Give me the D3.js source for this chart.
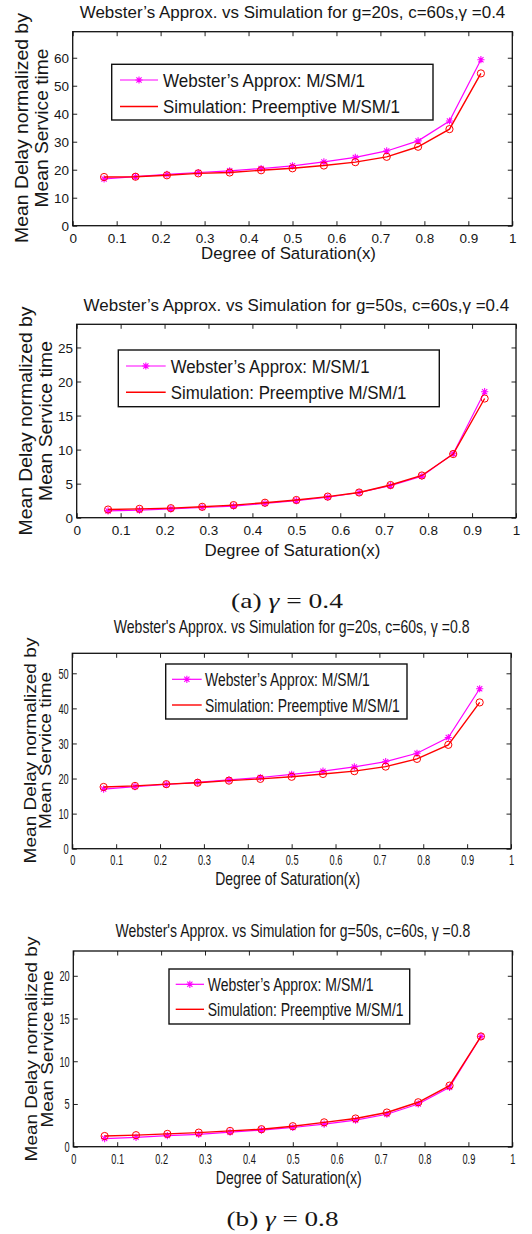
<!DOCTYPE html>
<html>
<head>
<meta charset="utf-8">
<script src="https://cdn.jsdelivr.net/npm/d3@7"></script>
<style>
body { margin: 0; background: #fff; }
svg { display: block; }
text { font-family: "Liberation Sans", Arial, sans-serif; fill: #161616; }
</style>
</head>
<body>
<svg id="fig" width="532" height="1234"></svg>
<script>
// degree of saturation for every point
const saturation = [0.0714, 0.1429, 0.2143, 0.2857, 0.3571, 0.4286, 0.5, 0.5714, 0.6429, 0.7143, 0.7857, 0.8571, 0.9286];
const xTicks = [0, 0.1, 0.2, 0.3, 0.4, 0.5, 0.6, 0.7, 0.8, 0.9, 1];

// gamma = 0.4
const websterG20a = [16.7, 17.5, 18.3, 19.0, 19.6, 20.4, 21.4, 22.8, 24.4, 26.7, 30.3, 37.4, 59.3];
const simG20a     = [17.4, 17.5, 18.0, 18.7, 19.0, 19.8, 20.5, 21.5, 22.7, 24.6, 28.2, 34.5, 54.4];
const websterG50a = [1.0, 1.1, 1.3, 1.5, 1.7, 2.1, 2.5, 3.0, 3.7, 4.7, 6.1, 9.4, 18.5];
const simG50a     = [1.2, 1.3, 1.4, 1.6, 1.85, 2.2, 2.6, 3.1, 3.7, 4.8, 6.2, 9.35, 17.5];
// gamma = 0.8
const websterG20b = [17.0, 17.7, 18.3, 18.9, 19.6, 20.3, 21.2, 22.1, 23.3, 24.8, 27.2, 31.7, 45.6];
const simG20b     = [17.6, 17.9, 18.4, 18.8, 19.4, 19.9, 20.5, 21.3, 22.1, 23.4, 25.6, 29.6, 41.7];
const websterG50b = [0.95, 1.1, 1.3, 1.45, 1.7, 1.95, 2.25, 2.65, 3.1, 3.8, 5.0, 6.95, 12.9];
const simG50b     = [1.25, 1.35, 1.5, 1.65, 1.85, 2.05, 2.4, 2.85, 3.3, 4.0, 5.2, 7.15, 12.9];

const yTicksA = [0, 10, 20, 30, 40, 50, 60];
const yTicksB = [0, 5, 10, 15, 20, 25];
const yTicksC = [0, 10, 20, 30, 40, 50];
const yTicksD = [0, 5, 10, 15, 20];

const titles = [
    "Webster\u2019s Approx. vs Simulation for g=20s, c=60s,\u03b3 =0.4",
    "Webster\u2019s Approx. vs Simulation for g=50s, c=60s,\u03b3 =0.4",
    "Webster's Approx. vs Simulation for g=20s, c=60s, \u03b3 =0.8",
    "Webster's Approx. vs Simulation for g=50s, c=60s, \u03b3 =0.8"
];
const legendLabels = ["Webster\u2019s Approx: M/SM/1", "Simulation: Preemptive M/SM/1"];
const xLabel = "Degree of Saturation(x)";
const yLabel = ["Mean Delay normalized by", "Mean Service time"];

const svg = d3.select("#fig");

const panels = [
    { title: titles[0], web: websterG20a, sim: simG20a, yTicks: yTicksA, yMax: 69.3,
      box: [72.7, 512.3, 31.7, 225.7], titleY: 18, titleW: 426, titleFs: 17,
      tickY: 17, tickFs: 13.5, tickSx: 1, xlabY: 258.6, xlabW: 175, labFs: 17, ylabFs: 17.5,
      ylabX: [27.7, 47.7], ylabW: [230, 159], ylabC: 128,
      leg: [111.7, 433, 64.3, 120], legLine: [120, 158], legText: 163, legY: [80, 106.5],
      legW: [202, 237], legFs: 19 },
    { title: titles[1], web: websterG50a, sim: simG50a, yTicks: yTicksB, yMax: 28.4,
      box: [76.7, 516, 324.3, 517.7], titleY: 310.7, titleW: 426, titleFs: 17,
      tickY: 17.3, tickFs: 13.5, tickSx: 1, xlabY: 556.3, xlabW: 176, labFs: 17, ylabFs: 17.5,
      ylabX: [31.7, 51.7], ylabW: [229, 160], ylabC: 421,
      leg: [118.3, 439.3, 350, 406.7], legLine: [126, 165.7], legText: 170.7, legY: [366, 392.3],
      legW: [199, 236], legFs: 19 },
    { title: titles[2], web: websterG20b, sim: simG20b, yTicks: yTicksC, yMax: 55.7,
      box: [72.3, 511, 653.3, 848.7], titleY: 632.7, titleW: 356, titleFs: 17.5,
      tickY: 16.3, tickFs: 14, tickSx: 0.66, xlabY: 885.3, xlabW: 145, labFs: 17.5, ylabFs: 17,
      ylabX: [35.7, 50.5], ylabW: [226, 157], ylabC: 750.5,
      leg: [165.7, 407, 664, 719], legLine: [172, 201.7], legText: 205, legY: [679.3, 705],
      legW: [165, 195], legFs: 18.5 },
    { title: titles[3], web: websterG50b, sim: simG50b, yTicks: yTicksD, yMax: 22.9,
      box: [73.3, 512.3, 951, 1146.7], titleY: 937.3, titleW: 355, titleFs: 17.5,
      tickY: 17.3, tickFs: 14, tickSx: 0.66, xlabY: 1183.6, xlabW: 146, labFs: 17.5, ylabFs: 17,
      ylabX: [36.7, 52.5], ylabW: [225, 157], ylabC: 1049,
      leg: [169, 409.7, 969, 1024], legLine: [175.7, 204], legText: 207.7, legY: [984.3, 1009.3],
      legW: [166, 196], legFs: 18.5 }
];

const starPath = "M-3.6,0H3.6M0,-3.6V3.6M-2.6,-2.6L2.6,2.6M-2.6,2.6L2.6,-2.6";

// squeeze a text horizontally (in its own frame) to the measured width
function fit(sel, w, base) {
    const n = sel.node().getComputedTextLength();
    sel.attr("transform", `${base} scale(${w / n},1)`);
}

function drawPanel(p) {
    const [l, r, t, b] = p.box;
    const x = d3.scaleLinear().domain([0, 1]).range([l, r]);
    const y = d3.scaleLinear().domain([0, p.yMax]).range([b, t]);
    const g = svg.append("g");

    // ticks (inward, on all four sides, matlab style)
    const xb = g.append("g").attr("transform", `translate(0,${b})`)
        .call(d3.axisBottom(x).tickValues(xTicks).tickFormat(d3.format("")).tickSizeInner(-4.5).tickSizeOuter(0));
    xb.selectAll("text").attr("y", p.tickY).attr("dy", null)
        .attr("transform", `scale(${p.tickSx},1)`).style("font-size", p.tickFs + "px");
    const xt = g.append("g").attr("transform", `translate(0,${t})`)
        .call(d3.axisTop(x).tickValues(xTicks).tickFormat("").tickSizeInner(-4.5).tickSizeOuter(0));
    const yl = g.append("g").attr("transform", `translate(${l},0)`)
        .call(d3.axisLeft(y).tickValues(p.yTicks).tickSizeInner(-4.5).tickSizeOuter(0));
    yl.selectAll("text").attr("x", 0).attr("dy", "0.34em")
        .attr("transform", `translate(-3.6,0) scale(${p.tickSx},1)`).style("font-size", p.tickFs + "px");
    const yr = g.append("g").attr("transform", `translate(${r},0)`)
        .call(d3.axisRight(y).tickValues(p.yTicks).tickFormat("").tickSizeInner(-4.5).tickSizeOuter(0));
    [xb, xt, yl, yr].forEach(a => {
        a.select(".domain").remove();
        a.selectAll("line").attr("stroke", "#222").attr("stroke-width", 1);
        a.attr("font-family", null).attr("font-size", null);
    });

    g.append("rect")
        .attr("x", l).attr("y", t).attr("width", r - l).attr("height", b - t)
        .attr("fill", "none").attr("stroke", "#111").attr("stroke-width", 1.3);

    const line = d3.line().x((d, i) => x(saturation[i])).y(d => y(d));

    g.append("path").datum(p.web).attr("d", line)
        .attr("fill", "none").attr("stroke", "#ff00ff").attr("stroke-width", 1.2);
    g.selectAll(".star").data(p.web).join("path")
        .attr("class", "star")
        .attr("transform", (d, i) => `translate(${x(saturation[i])},${y(d)})`)
        .attr("d", starPath).attr("stroke", "#ff00ff").attr("stroke-width", 1.1).attr("fill", "none");

    g.append("path").datum(p.sim).attr("d", line)
        .attr("fill", "none").attr("stroke", "#ff0000").attr("stroke-width", 1.4);
    g.selectAll(".circ").data(p.sim).join("circle")
        .attr("class", "circ")
        .attr("cx", (d, i) => x(saturation[i])).attr("cy", d => y(d)).attr("r", 3.6)
        .attr("fill", "none").attr("stroke", "#ff0000").attr("stroke-width", 1);

    // title and axis labels
    const tt = g.append("text").attr("text-anchor", "middle").style("font-size", p.titleFs + "px").text(p.title);
    fit(tt, p.titleW, `translate(${(l + r) / 2},${p.titleY})`);
    const xl = g.append("text").attr("text-anchor", "middle").style("font-size", p.labFs + "px").text(xLabel);
    fit(xl, p.xlabW, `translate(${(l + r) / 2 - 4},${p.xlabY})`);
    yLabel.forEach((s, i) => {
        const yt = g.append("text").attr("text-anchor", "middle").style("font-size", p.ylabFs + "px").text(s);
        fit(yt, p.ylabW[i], `translate(${p.ylabX[i]},${p.ylabC}) rotate(-90)`);
    });

    // legend
    const [ll, lr, lt, lb] = p.leg;
    g.append("rect").attr("x", ll).attr("y", lt).attr("width", lr - ll).attr("height", lb - lt)
        .attr("fill", "#fff").attr("stroke", "#111").attr("stroke-width", 1.4);
    const colors = ["#ff00ff", "#ff0000"];
    legendLabels.forEach((s, i) => {
        g.append("line").attr("x1", p.legLine[0]).attr("x2", p.legLine[1])
            .attr("y1", p.legY[i]).attr("y2", p.legY[i])
            .attr("stroke", colors[i]).attr("stroke-width", i ? 1.4 : 1.2);
        if (i === 0) {
            g.append("path").attr("d", starPath)
                .attr("transform", `translate(${(p.legLine[0] + p.legLine[1]) / 2},${p.legY[i]})`)
                .attr("stroke", colors[i]).attr("stroke-width", 1.1).attr("fill", "none");
        }
        const lt2 = g.append("text").attr("dy", "0.36em").style("font-size", p.legFs + "px").text(s);
        fit(lt2, p.legW[i], `translate(${p.legText},${p.legY[i]})`);
    });
}

panels.forEach(drawPanel);

// sub-figure captions
const captions = [
    { lab: "(a) ", val: " = 0.4", x: 287, y: 608 },
    { lab: "(b) ", val: " = 0.8", x: 282.5, y: 1226 }
];
captions.forEach(c => {
    const t = svg.append("text").attr("text-anchor", "middle")
        .style("font-family", "'Liberation Serif', 'DejaVu Serif', serif").style("font-size", "20px");
    t.append("tspan").text(c.lab);
    t.append("tspan").style("font-style", "italic").text("\u03b3");
    t.append("tspan").text(c.val);
    fit(t, 112, `translate(${c.x},${c.y})`);
});
</script>
</body>
</html>
